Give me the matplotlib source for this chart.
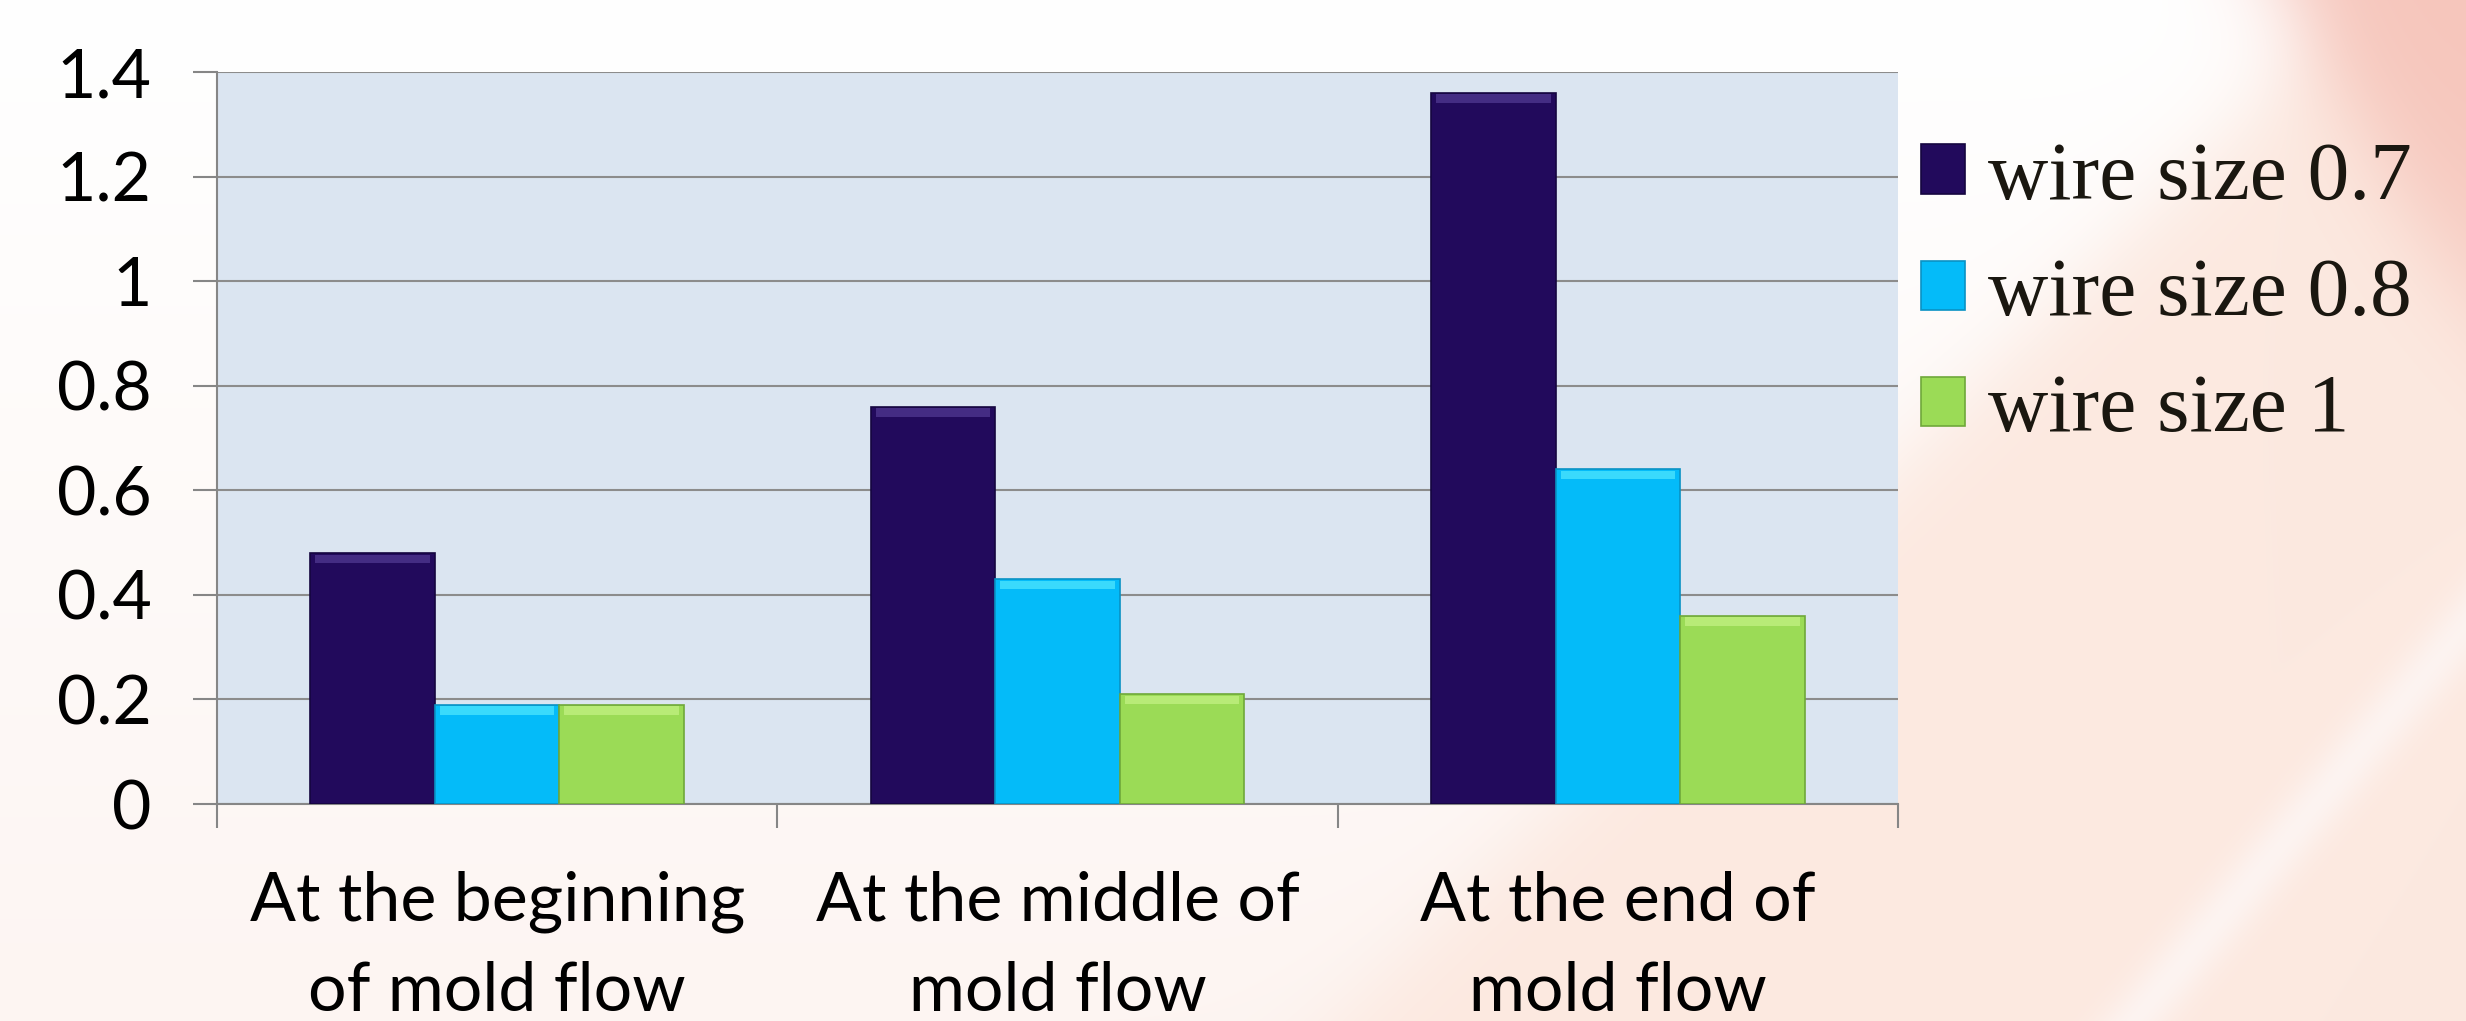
import matplotlib
matplotlib.use("Agg")
import matplotlib.pyplot as plt
import numpy as np

plt.rcParams['font.family'] = ['Lato', 'DejaVu Sans']

# data
categories = ['At the beginning\nof mold flow', 'At the middle of\nmold flow', 'At the end of\nmold flow']
series_names = ['wire size 0.7', 'wire size 0.8', 'wire size 1']
wire_07 = [0.48, 0.76, 1.36]
wire_08 = [0.19, 0.43, 0.64]
wire_10 = [0.19, 0.21, 0.36]
y_ticks = [0, 0.2, 0.4, 0.6, 0.8, 1.0, 1.2, 1.4]
y_tick_labels = ['0', '0.2', '0.4', '0.6', '0.8', '1', '1.2', '1.4']

face_colors = ['#220a5c', '#04bbf9', '#9bdb56']
edge_colors = ['#150640', '#0a92c4', '#6fa83a']
bevel_colors = ['#5b449e', '#5ff0ff', '#cdf68e']

W, H = 2466, 1021
fig = plt.figure(figsize=(W / 100, H / 100), dpi=100)

# slide background: white on the left, peach band on the right with a pale streak
yy, xx = np.mgrid[0:H, 0:W].astype(float)
def sig(z):
    return 1.0 / (1.0 + np.exp(-z))
white = np.array([1.0, 1.0, 1.0])
pale = np.array([253, 245, 242]) / 255
peach = np.array([252, 233, 224]) / 255
salmon = np.array([246, 198, 188]) / 255
t = np.clip(yy / H, 0, 1)[..., None]
bg = white * (1 - t) + pale * t
w_peach = sig((xx + yy - 2362) / 35)[..., None]
bg = bg * (1 - w_peach) + peach * w_peach
w_salmon = (sig((xx - 2290 - 0.55 * yy) / 30) * sig((330 - yy) / 70))[..., None]
bg = bg * (1 - w_salmon) + salmon * w_salmon
d = (yy - 900 + 1.19 * (xx - 2235)) / np.hypot(1, 1.19)
w_streak = (0.75 * np.exp(-(d / 28) ** 2) * sig((yy - 420) / 60))[..., None]
bg = bg * (1 - w_streak) + np.array([253, 247, 246]) / 255 * w_streak
bg_ax = fig.add_axes([0, 0, 1, 1], zorder=-5)
bg_ax.imshow(bg, aspect='auto', extent=(0, 1, 0, 1))
bg_ax.axis('off')

ax = fig.add_axes([217 / W, 1 - 804 / H, (1898 - 217) / W, (804 - 72) / H])
ax.set_facecolor('#dbe5f1')

x = np.arange(len(categories))
bw = 1 / 4.5
band = 0.016
for i, vals in enumerate([wire_07, wire_08, wire_10]):
    pos = x + (i - 1) * bw
    ax.bar(pos, vals, width=bw, color=face_colors[i], edgecolor=edge_colors[i],
           linewidth=1.2, label=series_names[i], zorder=3)
    # bevel highlight along the top of each bar
    ax.bar(pos, band, bottom=np.array(vals) - band - 0.003, width=bw * 0.92,
           color=bevel_colors[i], alpha=0.6, linewidth=0, zorder=4,
           label='_nolegend_')

ax.set_xlim(-0.5, 2.5)
ax.set_ylim(0, 1.4)
ax.set_yticks(y_ticks)
ax.set_yticklabels(y_tick_labels)
ax.set_xticks(x)
ax.set_xticklabels(categories, linespacing=1.56)
ax.set_xticks([-0.5, 0.5, 1.5, 2.5], minor=True)

grey = '#868686'
ax.yaxis.grid(True, color='#8c8c8c', linewidth=1.5, zorder=0)
ax.set_axisbelow(True)
for s in ['top', 'right']:
    ax.spines[s].set_visible(False)
for s in ['left', 'bottom']:
    ax.spines[s].set_color(grey)
    ax.spines[s].set_linewidth(1.5)
ax.tick_params(axis='y', length=17, width=1.5, color=grey, pad=30, labelsize=49)
ax.tick_params(axis='x', which='major', length=0, pad=48, labelsize=49)
ax.tick_params(axis='x', which='minor', length=17, width=1.5, color=grey)

ax.legend(loc='upper left', bbox_to_anchor=(1921 / W, 1 - 141 / H),
          bbox_transform=fig.transFigure, frameon=False,
          prop={'family': 'Liberation Serif', 'size': 60},
          handlelength=0.53, handleheight=0.53, handletextpad=0.28,
          labelspacing=0.49, borderpad=0, borderaxespad=0, labelcolor='#1a1710')

fig.savefig('out.png', dpi=100)
